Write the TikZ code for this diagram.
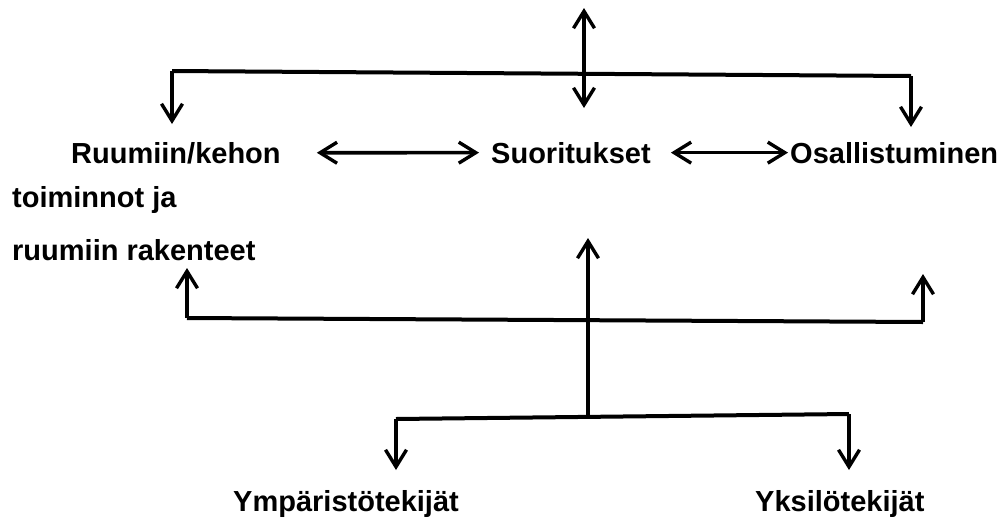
\documentclass[tikz,border=0pt]{standalone}
\usepackage{fontspec}
\setmainfont{Liberation Sans}
\usetikzlibrary{arrows.meta}

\begin{document}
\begin{tikzpicture}[x=1pt,y=-1pt,
    lbl/.style={font=\fontsize{29}{34}\selectfont\bfseries, inner sep=0pt, anchor=base west},
    ln/.style={line width=4pt},
    arr/.style={line width=3.2pt, -{Straight Barb[length=17pt,width=21pt,line width=3.4pt]}},
    darr/.style={line width=3.6pt, {Straight Barb[length=17pt,width=21pt,line width=3.4pt]}-{Straight Barb[length=17pt,width=21pt,line width=3.4pt]}}]
    \useasboundingbox (0,0) rectangle (1002,523);
    % Texts
    \node[lbl] (body) at (71,163) {Ruumiin/kehon};
    \node[lbl] (body2) at (12,207) {toiminnot ja};
    \node[lbl] (body3) at (12,260) {ruumiin rakenteet};
    \node[lbl] (act) at (491,163) {Suoritukset};
    \node[lbl] (part) at (790,163) {Osallistuminen};
    \node[lbl] (env) at (233,511) {Ympäristötekijät};
    \node[lbl] (pers) at (755,511) {Yksilötekijät};
    % Branch points and tips
    \coordinate (tl) at (172,71);
    \coordinate (tr) at (911,76);
    \coordinate (top) at (584,8);
    \coordinate (ml) at (187,318);
    \coordinate (mr) at (923,322);
    \coordinate (bl) at (396,419);
    \coordinate (br) at (849,414);
    \coordinate (bm) at (588,416.5);
    % Top branch
    \draw[darr, line width=3.2pt] (top) -- (584,108);
    \draw[ln] (tl) -- (tr);
    \draw[arr] (tl) -- (172,124);
    \draw[arr] (tr) -- (911,127);
    % Middle row
    \draw[darr, shorten <=36pt, shorten >=12pt] (body.east) -- (act.west);
    \draw[darr, shorten <=20pt, shorten >=2pt] (act.east) -- (part.west);
    % Lower branch
    \draw[ln] (ml) -- (mr);
    \draw[arr] (ml) -- (187,268);
    \draw[arr] (mr) -- (923,274);
    \draw[arr] (bm) -- (588,238);
    \draw[ln] (bl) -- (br);
    \draw[arr] (bl) -- (396,470);
    \draw[arr] (br) -- (849,470);
\end{tikzpicture}
\end{document}
